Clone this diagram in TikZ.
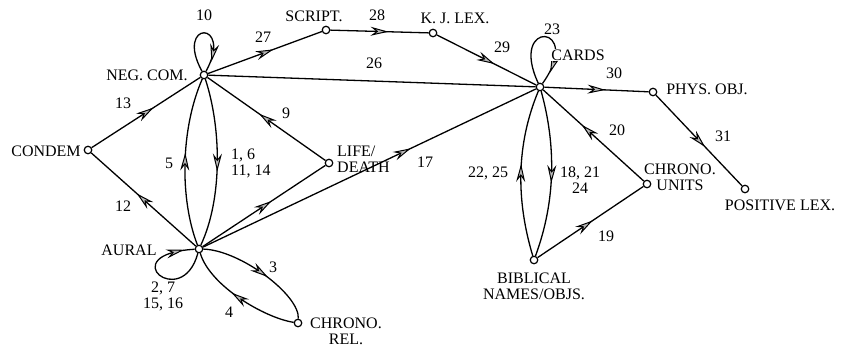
\documentclass[tikz,border=0pt]{standalone}
\usepackage{fontspec}
\setmainfont{Liberation Serif}
\usetikzlibrary{arrows.meta,decorations.markings,backgrounds}

\begin{document}
\begin{tikzpicture}[x=1pt,y=-1pt,
  vtx/.style={circle,draw,fill=white,inner sep=0pt,minimum size=7.5pt,line width=1.2pt},
  lbl/.style={font=\fontsize{16}{16}\selectfont,inner sep=1pt,align=center},
  link/.style={line width=1.3pt},
  midarr/.style={postaction={decorate,decoration={markings,mark=at position #1 with
      {\arrow[xshift=9pt]{Stealth[length=18pt,width=9pt,inset=6pt,fill=gray!55,line width=1pt]}}}}},
  midarr/.default=0.5]
\useasboundingbox (0,0) rectangle (842,351);

% vertices
\node[vtx] (neg)    at (204,75)  {};
\node[vtx] (condem) at (88,150)  {};
\node[vtx] (aural)  at (199,249) {};
\node[vtx] (life)   at (329,163) {};
\node[vtx] (script) at (326,30)  {};
\node[vtx] (kj)     at (433,33)  {};
\node[vtx] (cards)  at (540,87)  {};
\node[vtx] (phys)   at (653,92)  {};
\node[vtx] (poslex) at (745,189) {};
\node[vtx] (units)  at (647,184) {};
\node[vtx] (bibl)   at (534,260) {};
\node[vtx] (chrel)  at (298,323) {};

\begin{pgfonlayer}{background}
% left cluster
\draw[link,midarr] (condem) -- (neg);
\draw[link,midarr] (aural) -- (condem);
\draw[link,midarr=0.78] (neg) .. controls (174,20) and (234,20) .. (neg);
\draw[link,midarr] (aural) .. controls (180,200) and (180,130) .. (neg);
\draw[link,midarr] (neg) .. controls (222,130) and (222,200) .. (aural);
\draw[link,midarr] (life) -- (neg);
\draw[link,midarr] (aural) -- (life);
\draw[link,midarr=0.82] (aural) .. controls (182,312) and (112,254) .. (aural);
\draw[link,midarr] (aural) .. controls (240,250) and (300,295) .. (chrel);
\draw[link,midarr] (chrel) .. controls (265,318) and (210,286) .. (aural);
% top chain
\draw[link,midarr] (neg) -- (script);
\draw[link,midarr] (script) -- (kj);
\draw[link,midarr] (kj) -- (cards);
\draw[link] (neg) -- (cards);
\draw[link,midarr=0.6] (aural) -- (cards);
% right cluster
\draw[link,midarr=0.8] (cards) .. controls (508,18) and (585,24) .. (cards);
\draw[link,midarr] (cards) -- (phys);
\draw[link,midarr] (phys) -- (poslex);
\draw[link,midarr=0.55] (units) -- (cards);
\draw[link,midarr=0.45] (bibl) -- (units);
\draw[link,midarr] (bibl) .. controls (516,200) and (516,145) .. (cards);
\draw[link,midarr] (cards) .. controls (556,145) and (556,200) .. (bibl);
\end{pgfonlayer}

% vertex names
\node[lbl] (tneg)    at (147,75)  {NEG. COM.};
\node[lbl] (tcondem) at (46,151)  {CONDEM};
\node[lbl] (taural)  at (129,250) {AURAL};
\node[lbl,align=left,anchor=west] (tlife) at (336,159) {LIFE/\\DEATH};
\node[lbl] (tscript) at (314,16)  {SCRIPT.};
\node[lbl] (tkj)     at (455,18)  {K. J. LEX.};
\node[lbl,fill=white] (tcards) at (578,55) {CARDS};
\node[lbl] (tphys)   at (707,89)  {PHYS. OBJ.};
\node[lbl] (tunits)  at (680,177) {CHRONO.\\UNITS};
\node[lbl] (tpos)    at (780,205) {POSITIVE LEX.};
\node[lbl] (tbibl)   at (534,286) {BIBLICAL\\NAMES/OBJS.};
\node[lbl] (tchrel)  at (346,331) {CHRONO.\\REL.};

% edge numbers
\node[lbl] (n10) at (204,15)  {10};
\node[lbl] (n13) at (123,103) {13};
\node[lbl] (n12) at (123,206) {12};
\node[lbl] (n5)  at (169,163) {5};
\node[lbl,align=left,anchor=west] (n1) at (230,163) {1, 6\\11, 14};
\node[lbl] (n27) at (263,37)  {27};
\node[lbl] (n9)  at (286,113) {9};
\node[lbl] (n27b) at (163,296) {2, 7\\15, 16};
\node[lbl] (n3)  at (273,267) {3};
\node[lbl] (n4)  at (229,312) {4};
\node[lbl] (n28) at (377,15)  {28};
\node[lbl] (n26) at (374,63)  {26};
\node[lbl] (n29) at (502,47)  {29};
\node[lbl] (n17) at (425,162) {17};
\node[lbl] (n23) at (552,29)  {23};
\node[lbl] (n30) at (614,73)  {30};
\node[lbl] (n20) at (617,130) {20};
\node[lbl] (n31) at (723,136) {31};
\node[lbl] (n22) at (488,173) {22, 25};
\node[lbl] (n18) at (580,180) {18, 21\\24};
\node[lbl] (n19) at (606,236) {19};
\end{tikzpicture}
\end{document}
